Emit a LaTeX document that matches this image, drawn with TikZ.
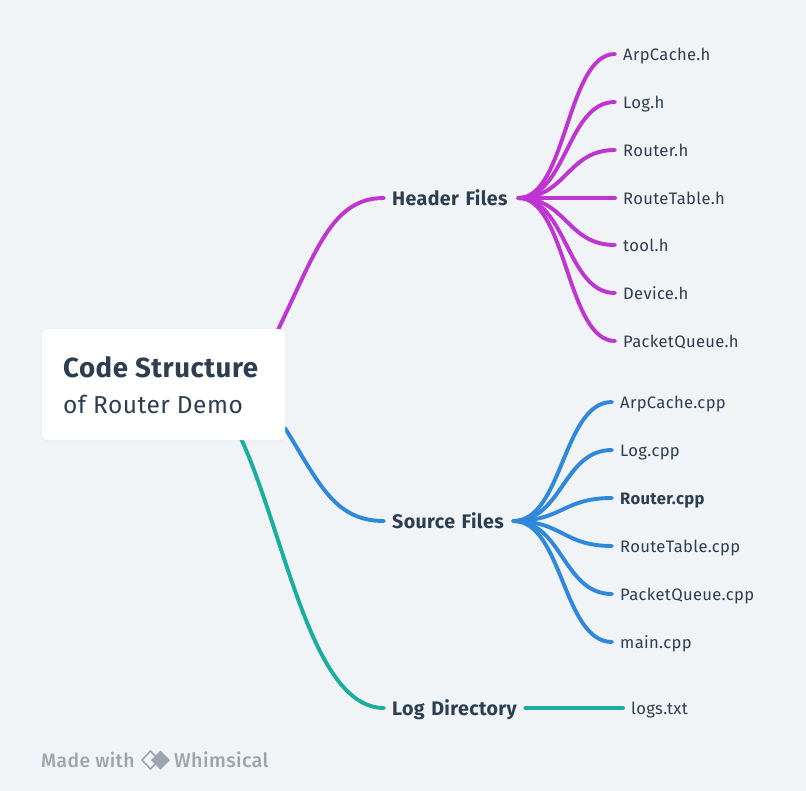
\documentclass[tikz,border=0pt]{standalone}
\usepackage{fontspec}
\setmainfont[LetterSpace=2]{Fira Sans}
\newfontfamily\medfont[LetterSpace=2]{Fira Sans Medium}
\usetikzlibrary{backgrounds}
\definecolor{bgc}{HTML}{F0F4F7}
\definecolor{purp}{HTML}{BF35D2}
\definecolor{blu}{HTML}{2F88DC}
\definecolor{grn}{HTML}{1BAE9F}
\definecolor{ink}{HTML}{2C3E50}
\definecolor{wm}{HTML}{9AA5B1}
\tikzset{
  x=1pt,y=-1pt,
  rootbox/.style={fill=white,rounded corners=6pt,minimum width=243pt,minimum height=111pt,anchor=north west,inner sep=0pt},
  branchnode/.style={anchor=west,inner xsep=8pt,inner ysep=0pt,text height=16pt,text depth=1pt,text=ink,font=\fontsize{19.6}{20}\selectfont\bfseries,align=left},
  leafnode/.style={anchor=west,inner xsep=8pt,inner ysep=0pt,text height=15pt,text depth=2pt,text=ink,font=\fontsize{16.6}{20}\selectfont},
  wire/.style={line width=3.9pt,line cap=round},
  wmtext/.style={anchor=west,inner sep=0pt,text height=16pt,text depth=2pt,text=wm,font=\medfont\fontsize{19.3}{22}\selectfont},
}
\newcommand{\fan}[3]{\path (#2.east) -- (#3.west) coordinate[midway] (m);
  \draw[wire,#1] (#2.east) .. controls (m|-#2.east) and (m|-#3.west) .. (#3.west);}
\begin{document}
\begin{tikzpicture}
\useasboundingbox (0,0) rectangle (806,791);
\node[branchnode,text width=118pt] (hdr) at (384,198) {Header Files};
\node[branchnode,text width=113pt] (src) at (384,521) {Source Files};
\node[branchnode,text width=125pt] (lgd) at (384,708) {Log Directory};
\node[rootbox] (root) at (42,329) {};
\coordinate (ra) at (276,334);
\coordinate (rb) at (285,428);
\coordinate (rc) at (238,432);
\begin{scope}[on background layer]
\fill[bgc] (0,0) rectangle (806,791);
\fill[black,opacity=.02,rounded corners=7pt] (41,329) rectangle (286,442);
\draw[wire,purp] (ra) .. controls (316,252) and (331,198) .. (hdr.west);
\draw[wire,blu] (rb) .. controls (320,485) and (335,521) .. (src.west);
\draw[wire,grn] (rc) .. controls (285,530) and (310,708) .. (lgd.west);
\end{scope}
\node[anchor=west,inner sep=0pt,text=ink,font=\fontsize{27.6}{30}\selectfont\bfseries] (t1) at (63,367) {Code Structure};
\node[anchor=west,inner sep=0pt,text=ink,font=\fontsize{24.5}{27}\selectfont] (t2) at (63,404) {of Router Demo};
\foreach \n/\y/\t in {a/54/ArpCache.h,b/102/Log.h,c/150/Router.h,d/198/RouteTable.h,e/245/tool.h,f/293/Device.h,g/341/PacketQueue.h}{
  \node[leafnode] (h\n) at (615,\y) {\t};
  \fan{purp}{hdr}{h\n}
}
\foreach \n/\y/\t in {a/402/ArpCache.cpp,b/450/Log.cpp,c/498/\textbf{Router.cpp},d/546/RouteTable.cpp,e/594/PacketQueue.cpp,f/642/main.cpp}{
  \node[leafnode] (s\n) at (612,\y) {\t};
  \fan{blu}{src}{s\n}
}
\node[leafnode] (la) at (623,708) {logs.txt};
\draw[wire,grn] (lgd.east) -- (la.west);
\node[wmtext] (w1) at (41,760) {Made with};
\node[wmtext,font=\medfont\fontsize{19.8}{22}\selectfont] (w2) at (174,760) {Whimsical};
\draw[wm,line width=1.6pt,line join=round] (150.5,751) -- (142,760) -- (150.5,769) -- (159,760) -- cycle;
\fill[wm] (160.5,750.5) -- (170,760) -- (160.5,769.5) -- (151,760) -- cycle;
\end{tikzpicture}
\end{document}
